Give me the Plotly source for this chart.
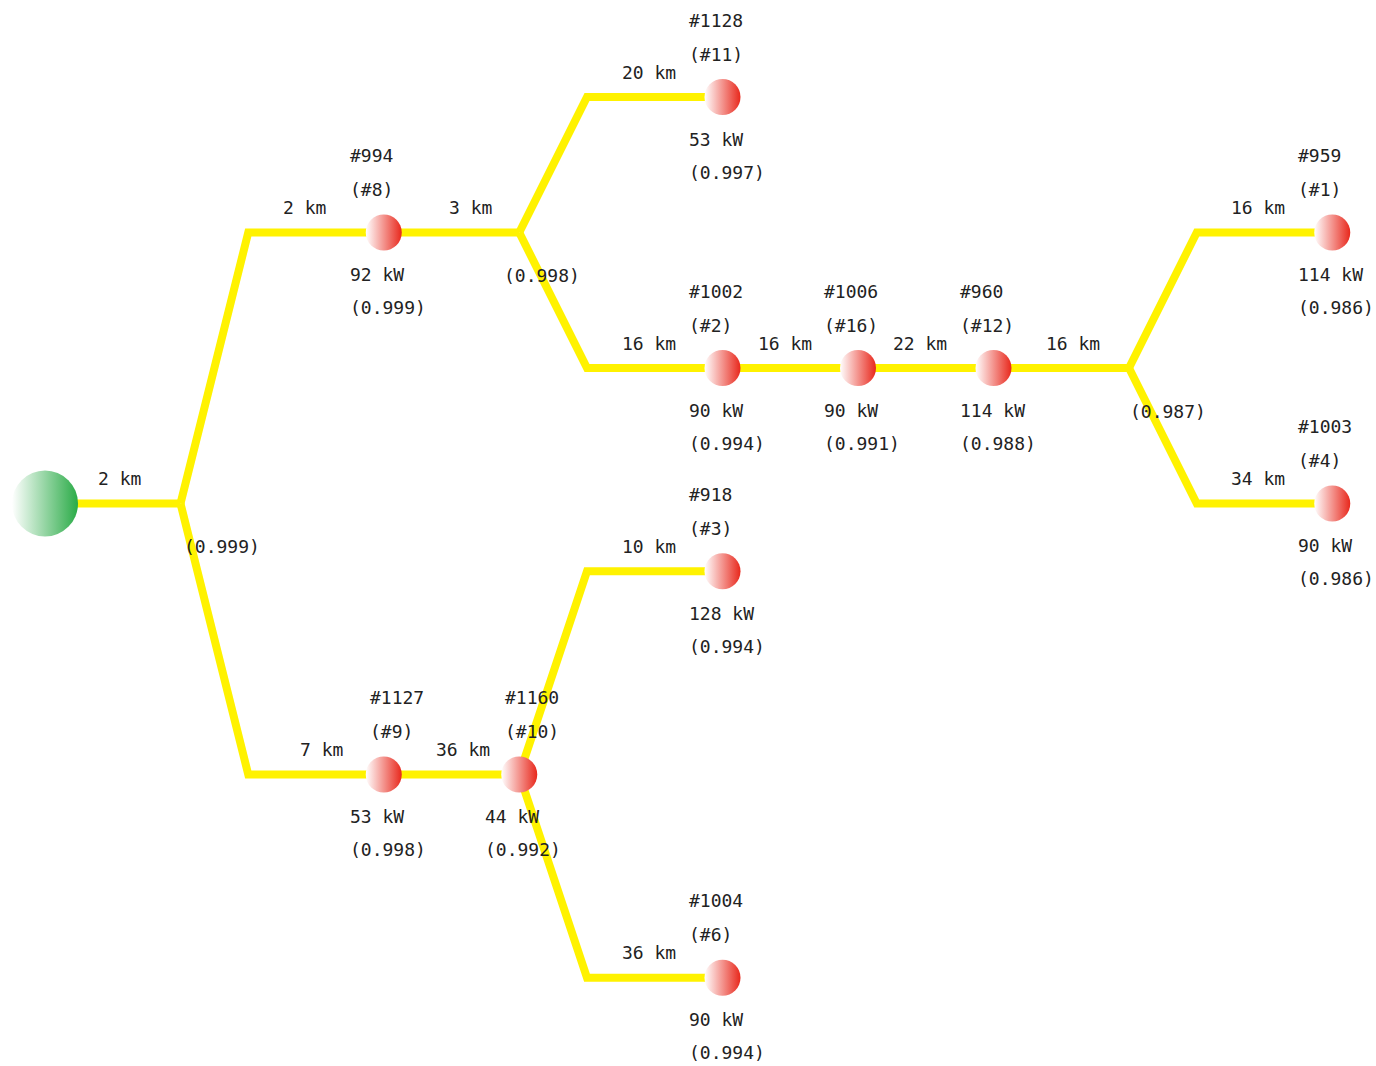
import plotly.graph_objects as go

# ---------------- data ----------------
node_keys   = ["root", "J0", "N994", "J1", "N1128", "N1002", "N1006", "N960", "J2",
               "N959", "N1003", "N1127", "N1160", "N918", "N1004"]
parents     = [None, "root", "J0", "N994", "J1", "J1", "N1002", "N1006", "N960",
               "J2", "J2", "J0", "N1127", "N1160", "N1160"]
node_kind   = ["source", "junction", "load", "junction", "load", "load", "load", "load", "junction",
               "load", "load", "load", "load", "load", "load"]
edge_km     = [None, 2, 2, 3, 20, 16, 16, 22, 16, 16, 34, 7, 36, 10, 36]
ids         = ["", "", "#994", "", "#1128", "#1002", "#1006", "#960", "",
               "#959", "#1003", "#1127", "#1160", "#918", "#1004"]
numbers     = ["", "", "(#8)", "", "(#11)", "(#2)", "(#16)", "(#12)", "",
               "(#1)", "(#4)", "(#9)", "(#10)", "(#3)", "(#6)"]
loads_kw    = [None, None, 92, None, 53, 90, 90, 114, None, 114, 90, 53, 44, 128, 90]
reliability = [None, 0.999, 0.999, 0.998, 0.997, 0.994, 0.991, 0.988, 0.987,
               0.986, 0.986, 0.998, 0.992, 0.994, 0.994]

# ---------------- layout / style parameters ----------------
spread = {"J0": 2.0, "J1": 1.0, "J2": 1.0, "N1160": 1.5}   # vertical spread of branches
km_dx = [None, -61, -79, -49, -74, -74, -73, -74, -56, -74, -74, -62, -56, -74, -74]
junction_dx = {"J0": 41, "J1": 23, "J2": 39}
id_dx = {"N1127": -16, "N1160": -16}
UNIT = 135.5
W, H = 1376, 1066
X0, Y0 = 45, 97

FONT = dict(family="DejaVu Sans Mono, Liberation Mono, monospace", size=18, color="#222222")
YELLOW = "#fff200"

# ---------------- compute tree layout ----------------
children = {k: [] for k in node_keys}
for k, p in zip(node_keys, parents):
    if p:
        children[p].append(k)

pos = {"root": (0.0, 3.0)}
for k, p in zip(node_keys, parents):
    if p is None:
        continue
    px, py = pos[p]
    sib = children[p]
    if len(sib) > 1:
        dy = -spread[p] if sib.index(k) == 0 else spread[p]
        pos[k] = (px + 1.5, py + dy)
    else:
        pos[k] = (px + 1.0, py)

# ---------------- edges ----------------
ex, ey = [], []
for k, p in zip(node_keys, parents):
    if p is None:
        continue
    px, py = pos[p]
    cx, cy = pos[k]
    if len(children[p]) > 1:
        ex += [px, px + 0.5, cx, None]
        ey += [py, cy, cy, None]
    else:
        ex += [px, cx, None]
        ey += [py, cy, None]

fig = go.Figure()
fig.add_trace(go.Scatter(x=ex, y=ey, mode="lines",
                         line=dict(color=YELLOW, width=8),
                         hoverinfo="skip", showlegend=False))

load_keys = [k for k, t in zip(node_keys, node_kind) if t == "load"]
fig.add_trace(go.Scatter(
    x=[pos[k][0] for k in load_keys], y=[pos[k][1] for k in load_keys],
    mode="markers",
    marker=dict(size=36, color="#ffffff", line=dict(width=0),
                gradient=dict(type="horizontal", color="#e8281c")),
    hoverinfo="skip", showlegend=False))

fig.add_trace(go.Scatter(
    x=[pos["root"][0]], y=[pos["root"][1]], mode="markers",
    marker=dict(size=66, color="#ffffff", line=dict(width=0),
                gradient=dict(type="horizontal", color="#2aab47")),
    hoverinfo="skip", showlegend=False))

# ---------------- annotations ----------------
ann = []
def add(x, y, text, xshift, yshift, xanchor="center"):
    ann.append(dict(x=x, y=y, xref="x", yref="y", text=text, showarrow=False,
                    xanchor=xanchor, yanchor="middle", xshift=xshift, yshift=yshift,
                    font=FONT))

for i, k in enumerate(node_keys):
    x, y = pos[k]
    if edge_km[i] is not None:
        add(x, y, f"{edge_km[i]} km", km_dx[i], 25)
    if node_kind[i] == "junction":
        add(x, y, f"({reliability[i]:.3f})", junction_dx[k], -43)
    elif node_kind[i] == "load":
        dx = id_dx.get(k, -36)
        add(x, y, ids[i], dx, 77, "left")
        add(x, y, numbers[i], dx, 43, "left")
        add(x, y, f"{loads_kw[i]} kW", -36, -42, "left")
        add(x, y, f"({reliability[i]:.3f})", -36, -75, "left")

fig.update_layout(
    width=W, height=H,
    margin=dict(l=0, r=0, t=0, b=0),
    paper_bgcolor="white", plot_bgcolor="white",
    xaxis=dict(range=[-X0 / UNIT, (W - X0) / UNIT], visible=False, fixedrange=True),
    yaxis=dict(range=[(H - Y0) / UNIT, -Y0 / UNIT], visible=False, fixedrange=True),
    annotations=ann,
)

fig.write_html("out.html", config={"displayModeBar": False},
               post_script="document.body.style.margin='0';document.body.style.overflow='hidden';")
